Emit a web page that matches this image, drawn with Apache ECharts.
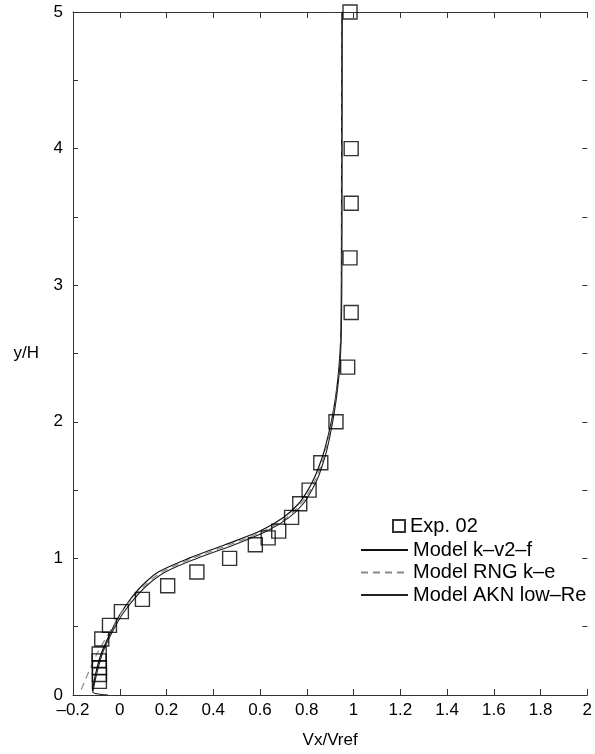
<!DOCTYPE html>
<html>
<head>
<meta charset="utf-8">
<script src="https://cdn.jsdelivr.net/npm/echarts@6/dist/echarts.min.js"></script>
<style>
  html, body { margin: 0; padding: 0; background: #fff; }
  #chart { width: 595px; height: 754px; }
</style>
</head>
<body>
<div id="chart"></div>
<script>
// measured points, Exp. 02
const expX = [0.985, 0.99, 0.99, 0.985, 0.99, 0.975, 0.925, 0.86, 0.81, 0.77, 0.735, 0.68, 0.635, 0.58, 0.47, 0.33, 0.205, 0.097, 0.007, -0.044, -0.077, -0.088, -0.088, -0.087, -0.087, -0.087];
const expY = [5.0, 4.0, 3.6, 3.2, 2.8, 2.4, 2.0, 1.7, 1.5, 1.4, 1.3, 1.2, 1.15, 1.1, 1.0, 0.9, 0.8, 0.7, 0.61, 0.51, 0.41, 0.3, 0.25, 0.2, 0.15, 0.1];

// Model k-v2-f
const kv2fY = [0.03, 0.1, 0.2, 0.3, 0.4, 0.5, 0.6, 0.7, 0.8, 0.9, 1.0, 1.1, 1.2, 1.3, 1.4, 1.5, 1.6, 1.7, 1.8, 2.0, 2.2, 2.4, 2.6, 3.0, 4.0, 5.0];
const kv2fX = [-0.117, -0.11, -0.097, -0.08, -0.055, -0.027, 0.005, 0.045, 0.095, 0.165, 0.295, 0.45, 0.6, 0.7, 0.765, 0.805, 0.835, 0.858, 0.877, 0.905, 0.925, 0.938, 0.945, 0.948, 0.949, 0.95];

// Model RNG k-e
const rngY = [0.04, 0.1, 0.2, 0.3, 0.4, 0.5, 0.6, 0.7, 0.8, 0.9, 1.0, 1.1, 1.2, 1.3, 1.4, 1.5, 1.6, 1.7, 1.8, 2.0, 2.2, 2.4, 2.6, 3.0, 4.0, 5.0];
const rngX = [-0.165, -0.15, -0.125, -0.098, -0.065, -0.03, 0.005, 0.05, 0.105, 0.18, 0.31, 0.47, 0.615, 0.715, 0.775, 0.815, 0.843, 0.865, 0.882, 0.908, 0.927, 0.94, 0.946, 0.949, 0.95, 0.951];

// Model AKN low-Re
const aknY = [0.0, 0.02, 0.05, 0.1, 0.2, 0.3, 0.4, 0.5, 0.6, 0.7, 0.8, 0.9, 1.0, 1.1, 1.2, 1.3, 1.4, 1.5, 1.6, 1.7, 1.8, 2.0, 2.2, 2.4, 2.6, 3.0, 4.0, 5.0];
const aknX = [-0.05, -0.115, -0.112, -0.106, -0.092, -0.075, -0.05, -0.02, 0.015, 0.06, 0.115, 0.195, 0.33, 0.49, 0.63, 0.725, 0.785, 0.822, 0.85, 0.87, 0.887, 0.911, 0.929, 0.941, 0.947, 0.95, 0.951, 0.952];

const pairs = (xs, ys) => xs.map((x, i) => [x, ys[i]]);

const font = 'Liberation Sans';
const axisColor = '#333';

const chart = echarts.init(document.getElementById('chart'));

chart.setOption({
  animation: false,
  textStyle: { fontFamily: font, color: '#000' },
  grid: { left: 73, right: 0, top: 12, bottom: 52 },
  xAxis: [
    {
      type: 'value', min: -0.2, max: 2, interval: 0.2, position: 'bottom',
      name: 'Vx/Vref', nameLocation: 'middle', nameGap: 37,
      nameTextStyle: { fontSize: 17, color: '#000' },
      axisLine: { show: true, onZero: false, lineStyle: { color: axisColor, width: 1 } },
      axisTick: { show: true, inside: true, length: 6, lineStyle: { color: axisColor } },
      axisLabel: {
        fontSize: 17, color: '#000', margin: 7,
        formatter: v => String(+v.toFixed(1)).replace('-', '\u2013')
      },
      splitLine: { show: false }
    },
    {
      type: 'value', min: -0.2, max: 2, interval: 0.2, position: 'top',
      axisLine: { show: true, onZero: false, lineStyle: { color: axisColor, width: 1 } },
      axisTick: { show: true, inside: true, length: 6, lineStyle: { color: axisColor } },
      axisLabel: { show: false },
      splitLine: { show: false }
    }
  ],
  yAxis: [
    {
      type: 'value', min: 0, max: 5, interval: 0.5, position: 'left',
      name: 'y/H', nameLocation: 'middle', nameRotate: 0, nameGap: 34,
      nameTextStyle: { fontSize: 17, color: '#000' },
      axisLine: { show: true, onZero: false, lineStyle: { color: axisColor, width: 1 } },
      axisTick: { show: true, inside: true, length: 5, lineStyle: { color: axisColor } },
      axisLabel: {
        fontSize: 17, color: '#000', margin: 10,
        formatter: v => (Math.abs(v - Math.round(v)) < 1e-6 ? String(Math.round(v)) : '')
      },
      splitLine: { show: false }
    },
    {
      type: 'value', min: 0, max: 5, interval: 0.5, position: 'right',
      axisLine: { show: false, onZero: false },
      axisTick: { show: true, inside: true, length: 5, lineStyle: { color: axisColor } },
      axisLabel: { show: false },
      splitLine: { show: false }
    }
  ],
  legend: [
    {
      data: ['Exp. 02'],
      left: 387, top: 511,
      itemWidth: 12, itemHeight: 12,
      textStyle: { fontSize: 20, color: '#000', fontFamily: font }
    },
    {
      data: ['Model k\u2013v2\u2013f', 'Model RNG k\u2013e', 'Model AKN low\u2013Re'],
      orient: 'vertical', left: 355, top: 535,
      itemWidth: 47, itemHeight: 14, itemGap: 2.5,
      itemStyle: { opacity: 0 },
      textStyle: { fontSize: 20, color: '#000', fontFamily: font }
    }
  ],
  series: [
    {
      name: 'Exp. 02', type: 'scatter', symbol: 'rect', symbolSize: 14,
      data: pairs(expX, expY),
      itemStyle: { color: 'rgba(255,255,255,0)', borderColor: '#000', borderWidth: 1.4 },
      z: 3
    },
    {
      name: 'Model k\u2013v2\u2013f', type: 'line', symbol: 'none', smooth: 0.3,
      data: pairs(kv2fX, kv2fY),
      lineStyle: { color: '#111', width: 1.2 },
      itemStyle: { color: '#111' }
    },
    {
      name: 'Model RNG k\u2013e', type: 'line', symbol: 'none', smooth: 0.3,
      data: pairs(rngX, rngY),
      lineStyle: { color: '#888', width: 1.2, type: [7, 5] },
      itemStyle: { color: '#888' }
    },
    {
      name: 'Model AKN low\u2013Re', type: 'line', symbol: 'none', smooth: 0.3,
      data: pairs(aknX, aknY),
      lineStyle: { color: '#222', width: 1.1 },
      itemStyle: { color: '#222' }
    }
  ]
});
</script>
</body>
</html>
